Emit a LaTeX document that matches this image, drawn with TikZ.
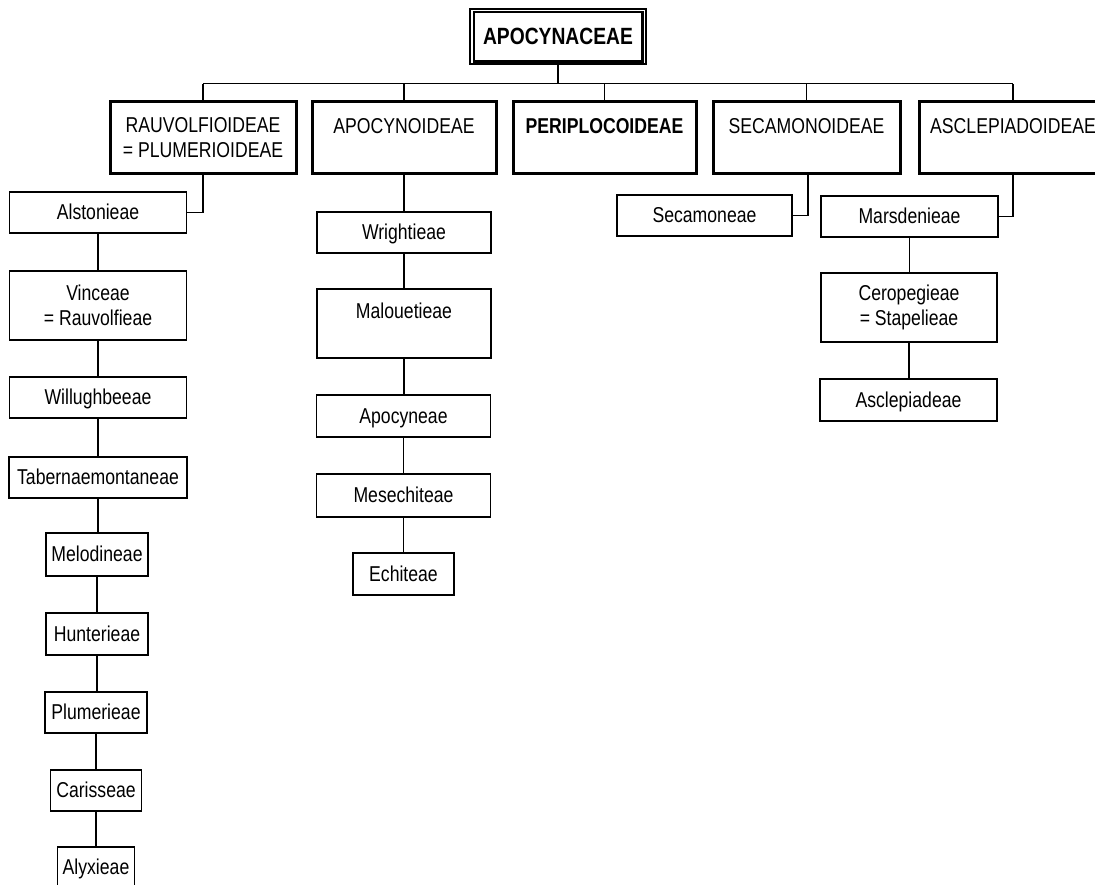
\documentclass[tikz,border=0pt]{standalone}
\usepackage{fontspec}
\setmainfont{Liberation Sans}[FakeStretch=0.82]
\usetikzlibrary{calc}
\newcommand\tfont{\fontsize{21.5}{25}\selectfont}
\newcommand\topfont{\fontsize{23.5}{27}\selectfont\bfseries}
\begin{document}
\begin{tikzpicture}[x=1pt,y=-1pt,
  every node/.style={inner sep=0pt, font=\tfont},
  tribe/.style={draw, line width=1.4pt, align=center},
  one/.style={text height=15pt, text depth=1pt, minimum height=41pt},
  sub/.style={draw, line width=3pt, align=center, minimum height=72pt},
  link/.style={line width=1.4pt}]
\useasboundingbox (0,0) rectangle (1095,885);

% root
\node[draw, line width=1.5pt, minimum width=176pt, minimum height=55pt, font=\topfont] (top) at (558,36.5) {APOCYNACEAE};
\draw[line width=2.5pt] ($(top.north west)+(4.5,4)$) rectangle ($(top.south east)+(-4.5,-3)$);

% subfamilies
\node[sub, minimum width=186pt] (rau) at (203,138) {RAUVOLFIOIDEAE\\= PLUMERIOIDEAE};
\node[sub, minimum width=184pt] (apo) at (404,138) {APOCYNOIDEAE\\\phantom{X}};
\node[sub, minimum width=183pt, font=\tfont\bfseries] (per) at (604.5,138) {PERIPLOCOIDEAE\\\phantom{X}};
\node[sub, minimum width=187pt] (sec) at (806.5,138) {SECAMONOIDEAE\\\phantom{X}};
\node[sub, minimum width=188pt] (asc) at (1013,138) {ASCLEPIADOIDEAE\\\phantom{X}};

\draw[link] (top.south) -- ++(0,19) coordinate (bar);
\draw[link] (rau.north |- bar) -- (asc.north |- bar);
\foreach \s in {rau,apo,per,sec,asc} \draw[link] (\s.north) -- (\s.north |- bar);

% Rauvolfioideae column
\node[tribe, one, minimum width=177pt] (als) at (98,212.5) {Alstonieae};
\node[tribe, minimum width=177pt, minimum height=69pt] (vin) at (98,305.5) {Vinceae\\= Rauvolfieae};
\node[tribe, one, minimum width=177pt] (wil) at (98,397.5) {Willughbeeae};
\node[tribe, one, minimum width=178pt] (tab) at (98,477.5) {Tabernaemontaneae};
\node[tribe, one, minimum width=102pt, minimum height=43pt] (mel) at (97,554.5) {Melodineae};
\node[tribe, one, minimum width=102pt, minimum height=42pt] (hun) at (97,634) {Hunterieae};
\node[tribe, one, minimum width=102pt] (plu) at (96,712.5) {Plumerieae};
\node[tribe, one, minimum width=91pt] (car) at (96,790.5) {Carisseae};
\node[tribe, one, minimum width=77pt] (aly) at (96,867.5) {Alyxieae};

\draw[link] (rau.south) |- (als.east);
\draw[link] (als.south) -- (als.south |- vin.north);
\draw[link] (vin.south) -- (vin.south |- wil.north);
\draw[link] (wil.south) -- (wil.south |- tab.north);
\draw[link] (tab.south) -- (tab.south |- mel.north);
\draw[link] (mel.south) -- (mel.south |- hun.north);
\draw[link] (hun.south) -- (hun.south |- plu.north);
\draw[link] (plu.south) -- (plu.south |- car.north);
\draw[link] (car.south) -- (car.south |- aly.north);

% Apocynoideae column
\node[tribe, one, minimum width=174pt] (wri) at (404,232.5) {Wrightieae};
\node[tribe, minimum width=174pt, minimum height=69pt] (mal) at (404,323.5) {Malouetieae\\\phantom{X}};
\node[tribe, one, minimum width=174pt, minimum height=42pt] (apn) at (403.5,416) {Apocyneae};
\node[tribe, one, minimum width=174pt, minimum height=43pt] (mes) at (403.5,495.5) {Mesechiteae};
\node[tribe, one, minimum width=101pt, minimum height=42pt] (ech) at (403.5,574) {Echiteae};

\draw[link] (apo.south) -- (apo.south |- wri.north);
\draw[link] (wri.south) -- (wri.south |- mal.north);
\draw[link] (mal.south) -- (mal.south |- apn.north);
\draw[link] (apn.south) -- (apn.south |- mes.north);
\draw[link] (mes.south) -- (mes.south |- ech.north);

% Secamonoideae
\node[tribe, one, minimum width=175pt] (scn) at (704.5,215.5) {Secamoneae};
\draw[link] ([xshift=1.5pt]sec.south) |- (scn.east);

% Asclepiadoideae
\node[tribe, one, minimum width=177pt] (mar) at (909.5,216.5) {Marsdenieae};
\node[tribe, minimum width=176pt, minimum height=69pt] (cer) at (909,307.5) {Ceropegieae\\= Stapelieae};
\node[tribe, one, minimum width=177pt, minimum height=42pt] (ascl) at (908.5,400) {Asclepiadeae};

\draw[link] (asc.south) |- (mar.east);
\draw[link] (mar.south) -- (mar.south |- cer.north);
\draw[link] (cer.south) -- (cer.south |- ascl.north);
\end{tikzpicture}
\end{document}
